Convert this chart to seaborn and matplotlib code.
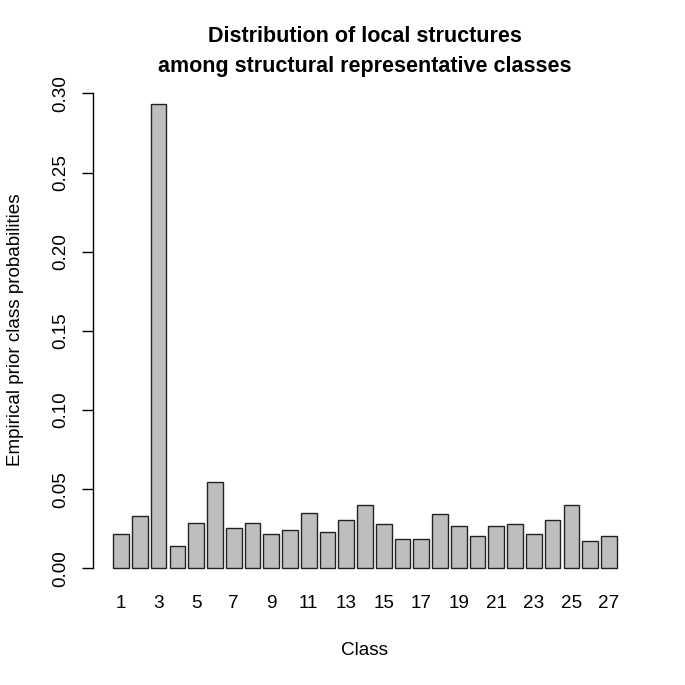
import matplotlib
matplotlib.use("Agg")
import matplotlib.pyplot as plt
import seaborn as sns
import pandas as pd

classes = [str(i) for i in range(1, 28)]
probs = [0.0217, 0.0332, 0.2931, 0.0141, 0.0284, 0.0543, 0.0255, 0.0286, 0.0219,
         0.0242, 0.0347, 0.0229, 0.0303, 0.0402, 0.0277, 0.0187, 0.0183, 0.0341,
         0.0267, 0.0206, 0.0267, 0.0280, 0.0219, 0.0307, 0.0398, 0.0172, 0.0206]
ytick_vals = [0.0, 0.05, 0.10, 0.15, 0.20, 0.25, 0.30]
ytick_labels = ["0.00", "0.05", "0.10", "0.15", "0.20", "0.25", "0.30"]
xtick_labels = [c if (i % 2 == 0) else "" for i, c in enumerate(classes)]

sns.set_theme(style="white")
plt.rcParams['font.family'] = ['Liberation Sans', 'DejaVu Sans']

df = pd.DataFrame({"Class": classes, "prob": probs})

W = 685
fig = plt.figure(figsize=(6.85, 6.85), dpi=100)
left, right, top, bottom = 93.2, 636.8, 85.8, 586.9
ax = fig.add_axes([left / W, 1 - bottom / W, (right - left) / W, (bottom - top) / W])

sns.barplot(data=df, x="Class", y="prob", order=classes, color="#BEBEBE",
            saturation=1, width=1 / 1.2, edgecolor="#222222", linewidth=1.0, ax=ax)

ymax = max(probs)
ax.set_ylim(-0.04 * ymax, 1.04 * ymax)
ax.set_xlim(-1.49, 27.49)

for s in ["top", "right", "bottom"]:
    ax.spines[s].set_visible(False)
ax.spines["left"].set_bounds(0, 0.30)
ax.spines["left"].set_color("black")
ax.spines["left"].set_linewidth(1.0)

fs = 13.6
ax.set_yticks(ytick_vals)
ax.set_yticklabels(ytick_labels, rotation=90, va="center", fontsize=fs, color="black")
ax.tick_params(axis="y", left=True, length=7.6, width=1.0, color="black", pad=10.0)
ax.set_xticks(range(len(classes)))
ax.set_xticklabels(xtick_labels, fontsize=fs, color="black")
ax.tick_params(axis="x", bottom=False, length=0, pad=5.5)

ax.set_xlabel("Class", fontsize=fs, labelpad=22, color="black")
ax.set_ylabel("Empirical prior class probabilities", fontsize=fs, color="black")
ax.yaxis.set_label_coords(-0.1273, 0.5127)
ax.set_title("Distribution of local structures\namong structural representative classes",
             fontsize=15.5, fontweight="bold", pad=10, linespacing=1.55, color="black")

fig.savefig("out.png", dpi=100, facecolor="white")
